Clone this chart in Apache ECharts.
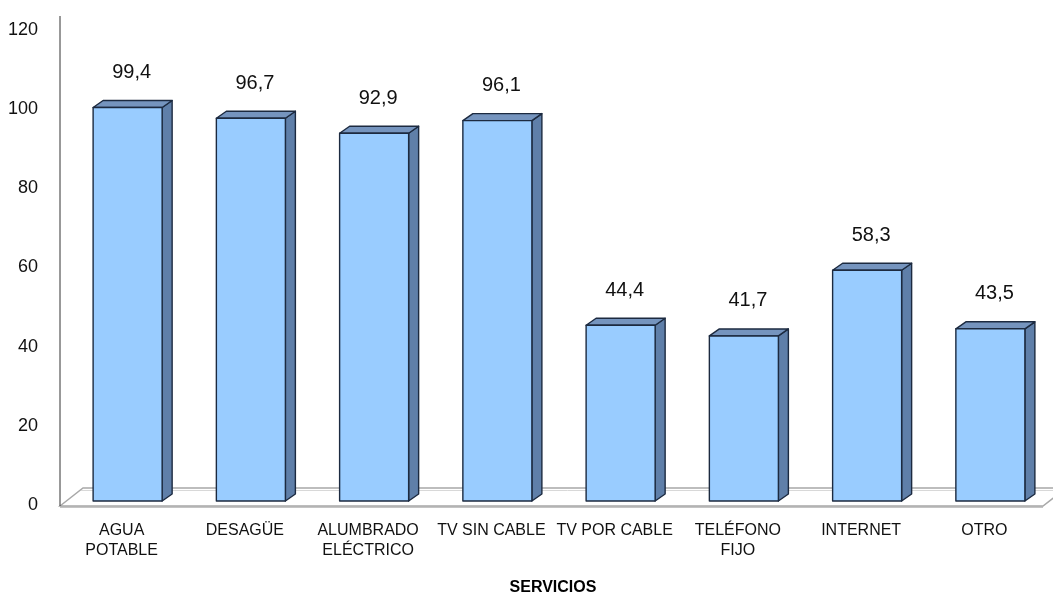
<!DOCTYPE html>
<html><head><meta charset="utf-8">
<script src="https://cdn.jsdelivr.net/npm/echarts@6/dist/echarts.min.js"></script>
<style>html,body{margin:0;padding:0;background:#fff}#c{width:1053px;height:601px}</style>
</head><body><div id="c"></div>
<script>
const categories = ['AGUA\nPOTABLE', 'DESAGÜE', 'ALUMBRADO\nELÉCTRICO', 'TV SIN CABLE', 'TV POR CABLE', 'TELÉFONO\nFIJO', 'INTERNET', 'OTRO'];
const values = [99.4, 96.7, 92.9, 96.1, 44.4, 41.7, 58.3, 43.5];
const yTicks = [0, 20, 40, 60, 80, 100, 120];
const xTitle = 'SERVICIOS';

const FONT = "'Liberation Sans Narrow','Arial Narrow','Liberation Sans',Arial,sans-serif";
const chart = echarts.init(document.getElementById('c'), null, {renderer: 'canvas'});

function renderBar(params, api) {
  const idx = api.value(0), v = api.value(1);
  const top = api.coord([idx, v]);
  const base = api.coord([idx, 0]);
  const w = api.size([1, 0])[0] * 0.56;
  const cx = top[0] + 6;
  const xl = cx - w / 2, xr = cx + w / 2;
  const yt = top[1] - 4, yb = base[1] - 4;
  const dx = 10, dy = -7;
  const stroke = {stroke: '#1c2a40', lineWidth: 1.4, lineJoin: 'round'};
  return {
    type: 'group',
    children: [
      {type: 'polygon', shape: {points: [[xr, yt], [xr + dx, yt + dy], [xr + dx, yb + dy], [xr, yb]]},
        style: Object.assign({fill: '#5f7fa9'}, stroke)},
      {type: 'polygon', shape: {points: [[xl, yt], [xl + dx, yt + dy], [xr + dx, yt + dy], [xr, yt]]},
        style: Object.assign({fill: '#7594be'}, stroke)},
      {type: 'rect', shape: {x: xl, y: yt, width: w, height: yb - yt},
        style: Object.assign({fill: '#99ccff'}, stroke)},
      {type: 'text', x: cx + 4, y: yt - 35,
        style: {text: String(v).replace('.', ','), fill: '#111', font: '20px ' + FONT, align: 'center', verticalAlign: 'middle'}}
    ]
  };
}

function renderFloor(params, api) {
  const cs = params.coordSys;
  const y0 = cs.y + cs.height + 1;
  const x0 = cs.x, x1 = cs.x + cs.width - 3;
  const fdx = 23, fdy = -18;
  return {
    type: 'group',
    children: [
      {type: 'polygon', shape: {points: [[x0, y0], [x0 + fdx, y0 + fdy], [x1 + fdx, y0 + fdy], [x1, y0]]},
        style: {fill: '#ffffff', stroke: '#a8a8a8', lineWidth: 1.5}},
      {type: 'line', shape: {x1: x0 + fdx - 2, y1: y0 + fdy + 2.5, x2: x1 + fdx, y2: y0 + fdy + 2.5},
        style: {stroke: '#d8d8d8', lineWidth: 1}},
      {type: 'line', shape: {x1: x0, y1: y0 + 1, x2: x1, y2: y0 + 1},
        style: {stroke: '#b0b0b0', lineWidth: 1.5}},
      {type: 'line', shape: {x1: x0, y1: y0, x2: x0, y2: cs.y - 14},
        style: {stroke: '#333', lineWidth: 1}}
    ]
  };
}

chart.setOption({
  animation: false,
  backgroundColor: '#fff',
  grid: {left: 60, right: 7, top: 30, bottom: 85, containLabel: false},
  xAxis: {
    type: 'category', data: categories,
    axisLine: {show: false}, axisTick: {show: false},
    axisLabel: {interval: 0, margin: 16, lineHeight: 20, fontFamily: FONT, fontSize: 16, color: '#111'},
    name: xTitle, nameLocation: 'middle', nameGap: 75,
    nameTextStyle: {fontFamily: FONT, fontSize: 16, fontWeight: 'bold', color: '#000'}
  },
  yAxis: {
    type: 'value', min: 0, max: 120, interval: 20,
    axisLine: {show: false}, axisTick: {show: false}, splitLine: {show: false},
    axisLabel: {margin: 22, fontFamily: FONT, fontSize: 18, color: '#111',
      formatter: function (v) { return yTicks.indexOf(v) >= 0 ? String(v) : ''; }}
  },
  series: [
    {type: 'custom', renderItem: renderFloor, data: [[0, 0]], z: 1, silent: true},
    {type: 'custom', renderItem: renderBar, data: values.map((v, i) => [i, v]), z: 2,
      encode: {x: 0, y: 1}}
  ]
});
</script></body></html>
